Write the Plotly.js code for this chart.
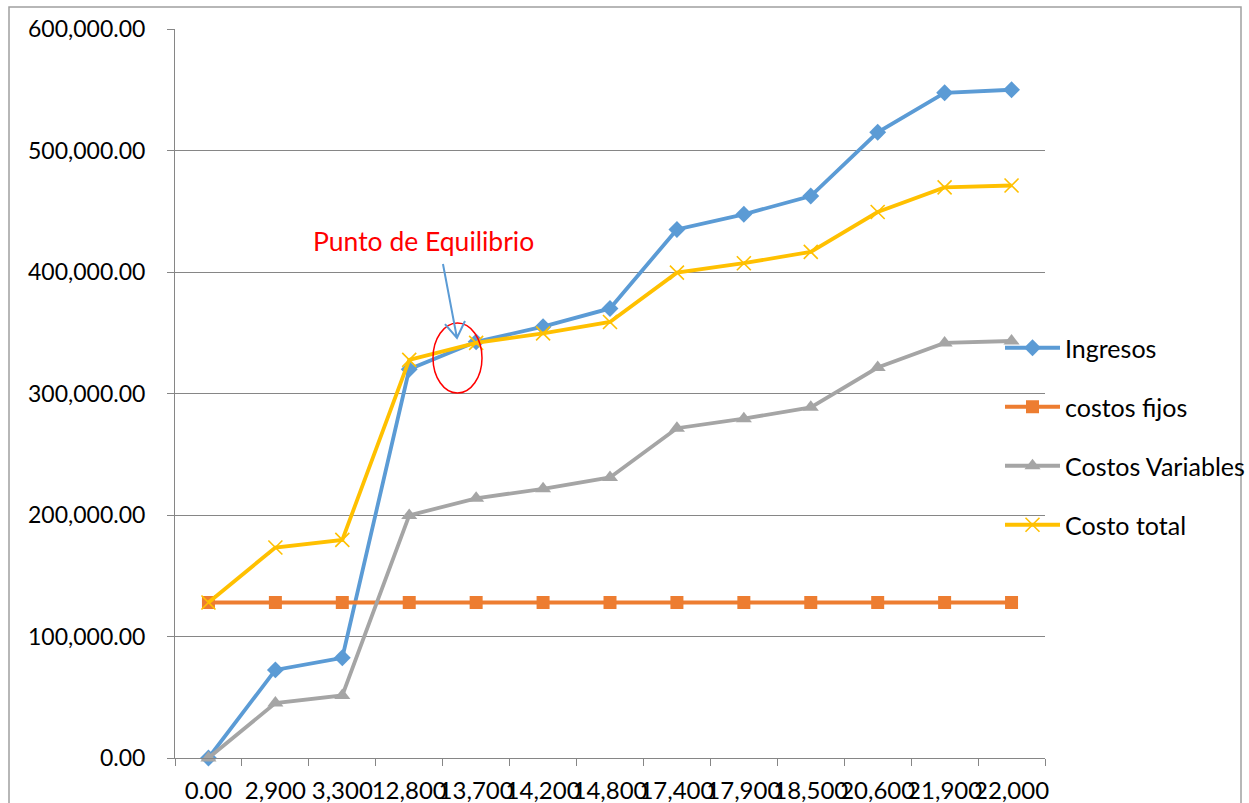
<!DOCTYPE html>
<html>
<head>
<meta charset="utf-8">
<script src="https://cdn.plot.ly/plotly-3.0.1.min.js"></script>
<style>html,body{margin:0;padding:0;background:#fff;}#chart{width:1249px;height:803px;}</style>
</head>
<body>
<div id="chart"></div>
<script>
// ---- data ----
const categories = ["0.00","2,900","3,300","12,800","13,700","14,200","14,800","17,400","17,900","18,500","20,600","21,900","22,000"];
const ingresos = [0, 72500, 82500, 320000, 342500, 355000, 370000, 435000, 447500, 462500, 515000, 547500, 550000];
const costosFijos = [128000, 128000, 128000, 128000, 128000, 128000, 128000, 128000, 128000, 128000, 128000, 128000, 128000];
const costosVariables = [0, 45240, 51480, 199680, 213720, 221520, 230880, 271440, 279240, 288600, 321360, 341640, 343200];
const costoTotal = [128000, 173240, 179480, 327680, 341720, 349520, 358880, 399440, 407240, 416600, 449360, 469640, 471200];
const seriesNames = ["Ingresos", "costos fijos", "Costos Variables", "Costo total"];
const annotationText = "Punto de Equilibrio";

// ---- layout helpers (plot area: x 175..1045, y 29..758 px) ----
const L = 175, R = 1045, T = 29, B = 758;
const px = x => (x - L) / (R - L);
const py = y => (B - y) / (B - T);
const P = (x, y) => px(x).toFixed(4) + ',' + py(y).toFixed(4);

const font = "Lato, 'Open Sans', 'DejaVu Sans', sans-serif";

const traces = [
  {name: seriesNames[0], y: ingresos, color: '#5B9BD5', symbol: 'diamond', size: 13},
  {name: seriesNames[1], y: costosFijos, color: '#ED7D31', symbol: 'square', size: 13},
  {name: seriesNames[2], y: costosVariables, color: '#A5A5A5', symbol: 'triangle-up', size: 14},
  {name: seriesNames[3], y: costoTotal, color: '#FFC000', symbol: 'x-thin', size: 14}
].map((s, i) => ({
  type: 'scatter',
  mode: 'lines+markers',
  x: categories,
  y: s.y,
  name: s.name,
  legendgroup: 'g' + i,
  line: {color: s.color, width: 3.8},
  marker: {symbol: s.symbol, size: s.size, color: s.color,
           line: {color: s.color, width: s.symbol === 'x-thin' ? 1.6 : 0}},
  cliponaxis: false
}));

const layout = {
  width: 1249, height: 803,
  paper_bgcolor: '#ffffff', plot_bgcolor: '#ffffff',
  margin: {l: L, r: 1249 - R, t: T, b: 803 - B, pad: 0, autoexpand: false},
  font: {family: font, size: 22, color: '#000000'},
  showlegend: true,
  legend: {
    x: px(1000), xanchor: 'left', y: py(325), yanchor: 'top',
    font: {family: font, size: 25, color: '#000000'},
    traceorder: 'grouped', tracegroupgap: 23.5,
    itemwidth: 55, bgcolor: 'rgba(0,0,0,0)', borderwidth: 0
  },
  xaxis: {
    type: 'category', range: [-0.5, 12.5], automargin: false,
    showline: true, linecolor: '#868686', linewidth: 1,
    ticks: 'outside', tickson: 'boundaries', ticklen: 7, tickcolor: '#868686', tickwidth: 1,
    showgrid: false, zeroline: false, tickangle: 0,
    tickfont: {family: font, size: 24, color: '#000000'},
    ticklabelstandoff: 11
  },
  yaxis: {
    range: [0, 600000], dtick: 100000, tick0: 0, tickformat: ',.2f', automargin: false,
    showline: true, linecolor: '#868686', linewidth: 1,
    ticks: 'outside', ticklen: 7, tickcolor: '#868686', tickwidth: 1,
    showgrid: true, gridcolor: '#868686', gridwidth: 1, zeroline: false,
    tickfont: {family: font, size: 23, color: '#000000'},
    ticklabelstandoff: 17
  },
  shapes: [
    // outer chart border
    {type: 'rect', xref: 'paper', yref: 'paper', x0: px(9), x1: px(1241), y0: py(812), y1: py(7),
     line: {color: '#A0A0A0', width: 1.5}, fillcolor: 'rgba(0,0,0,0)', layer: 'below'},
    // red ellipse
    {type: 'circle', xref: 'paper', yref: 'paper', x0: px(433), x1: px(482), y0: py(393), y1: py(323),
     line: {color: '#FF0000', width: 1.5}, fillcolor: 'rgba(0,0,0,0)'},
    // arrow shaft + open head
    {type: 'path', xref: 'paper', yref: 'paper',
     path: 'M' + P(443, 264) + ' L' + P(457, 338) + ' M' + P(445, 324) + ' L' + P(457, 338) + ' L' + P(465, 321),
     line: {color: '#5B9BD5', width: 2}}
  ],
  annotations: [
    {xref: 'paper', yref: 'paper', x: px(423), y: py(241), xanchor: 'center', yanchor: 'middle',
     text: annotationText, showarrow: false,
     font: {family: font, size: 26.5, color: '#FF0000'}}
  ]
};

Plotly.newPlot('chart', traces, layout, {displayModeBar: false, staticPlot: true});
</script>
</body>
</html>
